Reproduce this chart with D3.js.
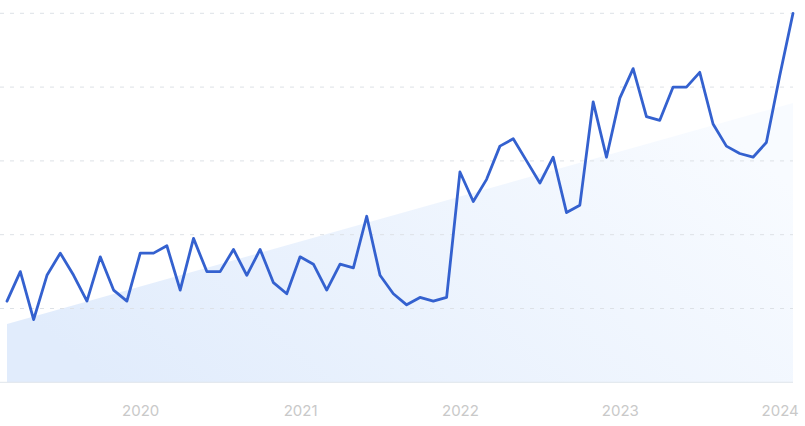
<!DOCTYPE html>
<html><head><meta charset="utf-8">
<script src="https://cdn.jsdelivr.net/npm/d3@7"></script>
<style>html,body{margin:0;padding:0;background:#fff;}svg{display:block;}</style>
</head><body><svg id="c" width="805" height="426"></svg>
<script>
const startYear = 2019, startMonth = 3; // March 2019
const values = [22,30,17,29,35,29,22,34,25,22,
  35,35,37,25,39,30,30,36,29,36,
  27,24,34,32,25,32,31,45,29,24,
  21,23,22,23,57,49,55,64,66,60,
  54,61,46,48,76,61,77,85,72,71,
  80,80,84,70,64,62,61,65,83,100];
const trendValues = [15.8, 75.7];
const yTicks = [20,40,60,80,100];
const yearLabels = ["2020","2021","2022","2023","2024"];

const svg = d3.select("#c");
const x = d3.scaleLinear().domain([0, values.length-1]).range([7, 793]);
const y = d3.scaleLinear().domain([0,100]).range([382.3, 13.3]);

const defs = svg.append("defs");
const g = defs.append("linearGradient").attr("id","tg").attr("x1","0").attr("y1","0.7").attr("x2","1").attr("y2","0.3");
g.append("stop").attr("offset","0").attr("stop-color","#e1ecfc");
g.append("stop").attr("offset","1").attr("stop-color","#f8fbff");

// trend area
const trendData = [{i:0,v:trendValues[0]},{i:values.length-1,v:trendValues[1]}];
svg.append("path").datum(trendData)
  .attr("d", d3.area().x(d=>x(d.i)).y0(y(0)).y1(d=>y(d.v)))
  .attr("fill","url(#tg)");

// grid
svg.append("g").selectAll("line").data(yTicks).join("line")
  .attr("x1",0).attr("x2",793).attr("y1",d=>y(d)).attr("y2",d=>y(d))
  .attr("stroke","#dde1e6").attr("stroke-width",1).attr("stroke-dasharray","4,6");

// baseline
svg.append("line").attr("x1",0).attr("x2",793).attr("y1",y(0)).attr("y2",y(0))
  .attr("stroke","#dfe5ec").attr("stroke-width",1);

// line
svg.append("path").datum(values)
  .attr("d", d3.line().x((d,i)=>x(i)).y(d=>y(d)))
  .attr("fill","none").attr("stroke","#3461cf").attr("stroke-width",2.8)
  .attr("stroke-linejoin","round").attr("stroke-linecap","round");

// x axis labels
const tickIdx = yearLabels.map(l => (+l - startYear)*12 + 1 - startMonth);
const axis = d3.axisBottom(x).tickValues(tickIdx).tickSize(0).tickPadding(0)
  .tickFormat((d,i)=>yearLabels[i]);
const ag = svg.append("g").attr("transform","translate(0,405)").call(axis);
ag.select(".domain").remove();
ag.selectAll("text").attr("fill","#c9c9c9").attr("font-size","15px")
  .attr("font-family","Inter, 'Noto Sans', sans-serif").attr("dy","0.71em");
</script></body></html>
